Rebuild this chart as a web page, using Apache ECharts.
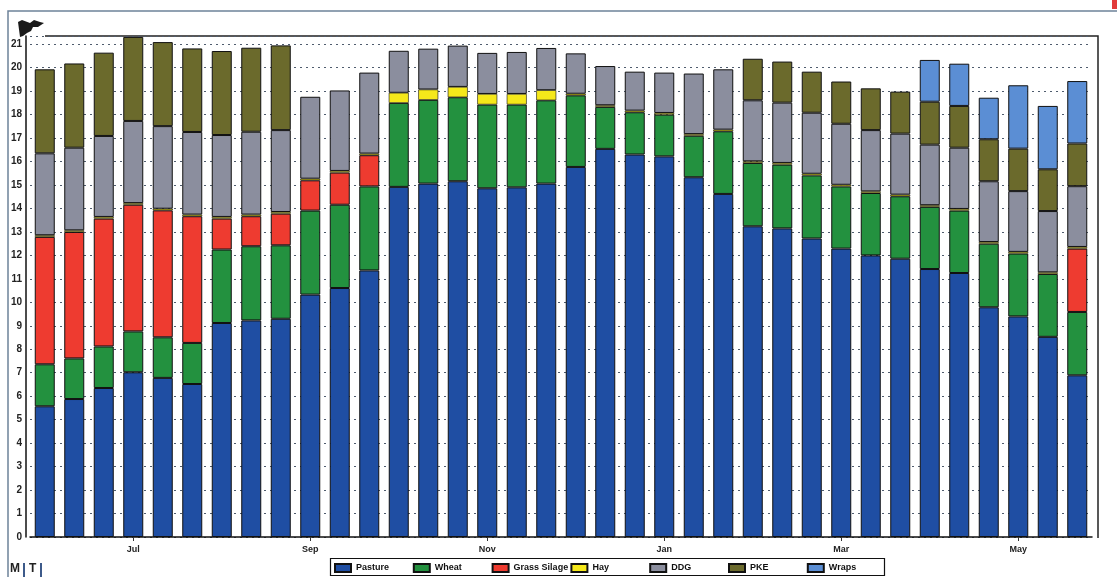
<!DOCTYPE html>
<html>
<head>
<meta charset="utf-8">
<script src="https://cdn.jsdelivr.net/npm/echarts@6/dist/echarts.min.js"></script>
<style>
html,body{margin:0;padding:0;background:#fff;}
#c{width:1117px;height:577px;}
</style>
</head>
<body>
<div id="c"></div>
<script>
// 36 periods, three per month, June to May
const categories = [
  'Jun 1','Jun 2','Jun 3','Jul 1','Jul 2','Jul 3','Aug 1','Aug 2','Aug 3',
  'Sep 1','Sep 2','Sep 3','Oct 1','Oct 2','Oct 3','Nov 1','Nov 2','Nov 3',
  'Dec 1','Dec 2','Dec 3','Jan 1','Jan 2','Jan 3','Feb 1','Feb 2','Feb 3',
  'Mar 1','Mar 2','Mar 3','Apr 1','Apr 2','Apr 3','May 1','May 2','May 3'
];
const pasture = [5.57,5.88,6.35,7.02,6.78,6.52,9.12,9.23,9.30,10.33,10.61,11.36,
  14.92,15.06,15.16,14.86,14.90,15.06,15.77,16.54,16.30,16.22,15.33,14.62,
  13.24,13.15,12.72,12.29,12.00,11.86,11.42,11.25,9.79,9.40,8.53,6.89];
const wheat = [1.79,1.73,1.77,1.74,1.73,1.75,3.13,3.16,3.13,3.58,3.55,3.58,
  3.58,3.57,3.58,3.57,3.53,3.55,3.05,1.79,1.80,1.78,1.77,2.67,
  2.70,2.72,2.69,2.65,2.66,2.66,2.65,2.66,2.71,2.68,2.68,2.70];
const grassSilage = [5.43,5.39,5.45,5.40,5.41,5.40,1.32,1.28,1.35,1.29,1.37,1.33,
  0,0,0,0,0,0,0,0,0,0,0,0,
  0,0,0,0,0,0,0,0,0,0,0,2.70];
const hay = [0.07,0.07,0.07,0.07,0.07,0.07,0.07,0.07,0.07,0.07,0.07,0.07,
  0.43,0.44,0.44,0.45,0.45,0.43,0.07,0.07,0.07,0.07,0.07,0.07,
  0.07,0.07,0.07,0.07,0.07,0.07,0.07,0.07,0.07,0.07,0.07,0.07];
const ddg = [3.49,3.52,3.45,3.50,3.52,3.52,3.49,3.53,3.49,3.49,3.43,3.45,
  1.79,1.74,1.76,1.75,1.79,1.80,1.72,1.67,1.66,1.72,2.58,2.57,
  2.60,2.57,2.60,2.60,2.61,2.60,2.58,2.61,2.59,2.59,2.61,2.59];
const pke = [3.58,3.59,3.55,3.58,3.58,3.56,3.58,3.58,3.61,0,0,0,
  0,0,0,0,0,0,0,0,0,0,0,0,
  1.77,1.75,1.75,1.80,1.78,1.79,1.83,1.78,1.79,1.81,1.78,1.82];
const wraps = [0,0,0,0,0,0,0,0,0,0,0,0,
  0,0,0,0,0,0,0,0,0,0,0,0,
  0,0,0,0,0,0,1.78,1.80,1.77,2.70,2.70,2.66];
const yTicks = {min:0, max:21.35, interval:1};

const seriesDefs = [
  {name:'Pasture', data:pasture, color:'#1f4ea3'},
  {name:'Wheat', data:wheat, color:'#23913f'},
  {name:'Grass Silage', data:grassSilage, color:'#ee3b30'},
  {name:'Hay', data:hay, color:'#f5e81a'},
  {name:'DDG', data:ddg, color:'#8b8e9e'},
  {name:'PKE', data:pke, color:'#6b6a2c'},
  {name:'Wraps', data:wraps, color:'#5b8ed4'}
];

const labelShown = (idx) => idx % 6 === 3;

// one legend entry per slot, evenly spaced inside a framed box
const legends = seriesDefs.map((s, i) => ({
  left: 334 + 78.8 * i, top: 563,
  orient:'horizontal', padding:0,
  itemWidth:16, itemHeight:8,
  textStyle:{fontFamily:'Liberation Sans, Arial', fontSize:9, fontWeight:'bold', color:'#111'},
  data:[{name:s.name, icon:'rect'}]
}));

const chart = echarts.init(document.getElementById('c'), null, {renderer:'canvas'});
chart.setOption({
  backgroundColor:'#ffffff',
  animation:false,
  grid:{left:30, right:25, top:36, bottom:40, containLabel:false, outerBoundsMode:'none'},
  legend: legends,
  xAxis:{
    type:'category',
    data:categories,
    boundaryGap:true,
    axisLine:{show:true, lineStyle:{color:'#111', width:1.5}},
    axisTick:{show:true, alignWithLabel:true, interval:labelShown, length:4, lineStyle:{color:'#333'}},
    axisLabel:{interval:labelShown, margin:8, fontFamily:'Liberation Sans, Arial', fontSize:9, fontWeight:'bold', color:'#222',
      formatter:(v)=>v.split(' ')[0]},
    splitLine:{show:false}
  },
  yAxis:{
    type:'value',
    min:yTicks.min, max:yTicks.max, interval:yTicks.interval,
    offset:4,
    axisLine:{show:true, lineStyle:{color:'#111', width:1.5}},
    axisTick:{show:false},
    axisLabel:{margin:4, fontFamily:'Liberation Sans, Arial', fontSize:10, fontWeight:'bold', color:'#222',
      formatter:(v)=>Number.isInteger(v) ? String(v) : ''},
    splitLine:{show:true, lineStyle:{color:'#4f5c6e', width:1, type:[2,4]}}
  },
  series: seriesDefs.map(s => ({
    name:s.name,
    type:'bar',
    stack:'feed',
    barWidth:20,
    data:s.data.map(v => v === 0 ? null : v),
    itemStyle:{color:s.color, borderColor:'#111', borderWidth:s.name === 'Hay' ? 0.6 : 1},
    emphasis:{disabled:true}
  })),
  graphic:[
    {type:'rect', silent:true, z:1, shape:{x:330.5, y:558.5, width:554, height:17}, style:{fill:'#ffffff', stroke:'#111', lineWidth:1.2}},
    {type:'polyline', silent:true, shape:{points:[[45,36],[1098,36],[1098,538]]}, style:{stroke:'#222', lineWidth:1.5, fill:null}},
    {type:'polyline', silent:true, shape:{points:[[8,577],[8,11],[1117,11]]}, style:{stroke:'#6d8299', lineWidth:1.5, fill:null}},
    {type:'rect', silent:true, shape:{x:1112, y:0, width:5, height:9}, style:{fill:'#e23b3b'}},
    {type:'polygon', silent:true, shape:{points:[[18,22],[22,20],[30,23],[34,20],[40,22],[44,23],[38,27],[33,27],[31,31],[27,33],[23,36],[20,37]]}, style:{fill:'#1a1a1a'}},
    {type:'text', silent:true, left:10, top:563, style:{text:'M', font:'bold 12px Liberation Sans, Arial', fill:'#222'}},
    {type:'rect', silent:true, shape:{x:23, y:563, width:2, height:14}, style:{fill:'#3d5a8a'}},
    {type:'text', silent:true, left:29, top:563, style:{text:'T', font:'bold 12px Liberation Sans, Arial', fill:'#222'}},
    {type:'rect', silent:true, shape:{x:40, y:563, width:2, height:14}, style:{fill:'#3d5a8a'}}
  ]
});
</script>
</body>
</html>
